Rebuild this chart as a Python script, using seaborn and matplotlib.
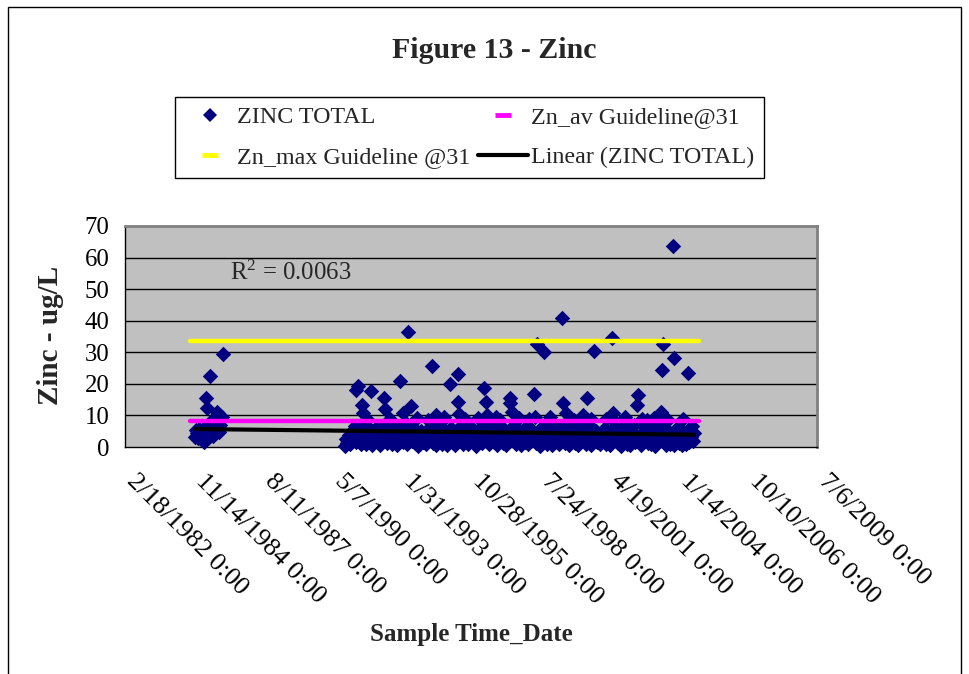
import numpy as np
import pandas as pd
import matplotlib
matplotlib.use("Agg")
import matplotlib.pyplot as plt
import matplotlib.transforms as mtransforms
from matplotlib.lines import Line2D
from matplotlib.patches import Rectangle
import seaborn as sns

# ---------------- data ----------------
title = "Figure 13 - Zinc"
x_label = "Sample Time_Date"
y_label = "Zinc - ug/L"
r2_value = "0.0063"

# early sampling period (decimal years, ug/L)
early_years = [1984.90, 1984.94, 1984.98, 1985.02, 1985.06, 1985.10, 1985.14, 1985.20,
               1985.26, 1985.30, 1985.34, 1985.37, 1985.40, 1985.45, 1985.50, 1985.55,
               1985.58, 1985.62, 1985.66, 1985.70, 1985.76, 1985.81, 1985.85, 1985.90,
               1985.95, 1985.99]
early_zinc = [3.3, 5.5, 4.5, 2.8, 5.8, 3.6, 2.5, 4.0,
              1.7, 6.2, 15.5, 12.2, 3.0, 5.2, 22.5, 4.1,
              8.5, 3.5, 6.5, 5.0, 11.2, 8.0, 4.8, 7.0,
              9.5, 29.4]

# later period - elevated results
high_years = [1991.28, 1991.36, 1991.50, 1991.56, 1991.86, 1992.39, 1992.42, 1993.03,
              1993.14, 1993.34, 1993.43, 1994.29, 1994.45, 1994.99, 1995.32, 1995.30,
              1995.36, 1996.35, 1996.42, 1996.44, 1996.81, 1997.36, 1997.38, 1997.44,
              1998.33, 1998.35, 1998.42, 1998.72, 1999.43, 1999.45, 1999.58, 2000.24,
              2000.40, 2000.70, 2001.41, 2001.45, 2002.37, 2002.44, 2002.77, 2003.32,
              2003.41, 2003.39, 2003.80, 2003.87, 2004.42]
high_zinc = [18.0, 19.2, 13.2, 10.7, 17.8, 15.6, 11.9, 21.0,
             10.7, 36.3, 13.1, 25.7, 10.1, 20.0, 23.1, 14.3,
             10.3, 18.6, 14.3, 10.1, 9.6, 15.6, 14.0, 11.0,
             16.7, 9.6, 32.6, 30.0, 40.8, 13.8, 10.7, 10.1,
             15.4, 30.5, 34.4, 10.8, 13.3, 16.4, 8.6, 11.2,
             32.6, 24.4, 63.7, 28.1, 23.5]

# later period - results just above the average guideline
mid_years = [1991.70, 1992.60, 1993.70, 1994.10, 1994.75, 1995.60, 1996.10, 1996.95,
             1997.70, 1998.10, 1998.95, 1999.90, 2000.55, 2001.15, 2001.90, 2002.60,
             2003.05, 2003.60, 2004.20]
mid_zinc = [9.0, 8.8, 9.2, 8.7, 9.4, 8.9, 9.1, 8.6,
            9.3, 8.8, 9.5, 8.7, 9.0, 8.9, 9.6, 8.8,
            9.2, 8.6, 9.0]

# later period - routine results
band_years = [1990.84, 1990.88, 1990.93, 1991.00, 1991.05, 1991.10, 1991.16, 1991.22, 1991.27, 1991.33,
              1991.40, 1991.45, 1991.53, 1991.60, 1991.66, 1991.72, 1991.78, 1991.83, 1991.90, 1991.96,
              1992.02, 1992.08, 1992.15, 1992.21, 1992.28, 1992.35, 1992.45, 1992.50, 1992.57, 1992.63,
              1992.70, 1992.76, 1992.82, 1992.88, 1992.95, 1993.00, 1993.07, 1993.12, 1993.19, 1993.25,
              1993.30, 1993.38, 1993.47, 1993.53, 1993.60, 1993.66, 1993.72, 1993.79, 1993.86, 1993.92,
              1993.98, 1994.04, 1994.10, 1994.17, 1994.23, 1994.30, 1994.36, 1994.42, 1994.50, 1994.56,
              1994.63, 1994.69, 1994.75, 1994.82, 1994.88, 1994.94, 1995.02, 1995.08, 1995.14, 1995.20,
              1995.26, 1995.40, 1995.46, 1995.52, 1995.58, 1995.65, 1995.71, 1995.77, 1995.84, 1995.90,
              1995.96, 1996.02, 1996.08, 1996.14, 1996.20, 1996.27, 1996.33, 1996.48, 1996.54, 1996.60,
              1996.66, 1996.72, 1996.78, 1996.86, 1996.92, 1996.98, 1997.04, 1997.10, 1997.16, 1997.22,
              1997.28, 1997.48, 1997.54, 1997.60, 1997.66, 1997.72, 1997.78, 1997.84, 1997.90, 1997.96,
              1998.02, 1998.08, 1998.14, 1998.20, 1998.26, 1998.38, 1998.48, 1998.54, 1998.60, 1998.66,
              1998.78, 1998.84, 1998.90, 1998.96, 1999.02, 1999.08, 1999.14, 1999.20, 1999.26, 1999.32,
              1999.38, 1999.50, 1999.55, 1999.64, 1999.70, 1999.76, 1999.82, 1999.88, 1999.94, 2000.00,
              2000.06, 2000.12, 2000.18, 2000.30, 2000.36, 2000.46, 2000.52, 2000.58, 2000.64, 2000.76,
              2000.82, 2000.88, 2000.94, 2001.00, 2001.06, 2001.12, 2001.18, 2001.24, 2001.30, 2001.36,
              2001.50, 2001.56, 2001.62, 2001.68, 2001.74, 2001.80, 2001.86, 2001.92, 2001.98, 2002.04,
              2002.10, 2002.16, 2002.22, 2002.28, 2002.32, 2002.50, 2002.56, 2002.62, 2002.68, 2002.72,
              2002.82, 2002.88, 2002.94, 2003.00, 2003.06, 2003.12, 2003.18, 2003.24, 2003.28, 2003.46,
              2003.52, 2003.58, 2003.64, 2003.70, 2003.76, 2003.84, 2003.92, 2003.98, 2004.04, 2004.10,
              2004.16, 2004.22, 2004.28, 2004.34, 2004.40, 2004.46, 2004.52, 2004.58, 2004.62, 2004.65]
band_zinc = [0.3, 2.5, 1.2, 3.8, 0.8, 5.2, 2.1, 6.5, 1.5, 3.2,
             4.6, 0.9, 7.2, 2.8, 1.1, 4.2, 2.4, 5.8, 0.6, 3.5,
             1.9, 6.1, 2.7, 0.7, 4.4, 2.2, 7.5, 1.4, 3.1, 5.0,
             1.0, 2.6, 6.8, 0.5, 3.9, 2.3, 5.5, 1.6, 8.0, 3.0,
             0.9, 4.8, 2.0, 6.3, 1.2, 3.6, 0.4, 2.9, 5.1, 1.7,
             3.3, 0.8, 4.1, 2.5, 6.6, 1.3, 3.7, 0.6, 5.4, 2.1,
             7.8, 1.0, 3.4, 4.9, 0.7, 2.8, 6.0, 1.5, 3.9, 0.5,
             5.3, 2.4, 7.0, 1.1, 3.2, 4.5, 0.9, 2.6, 6.4, 1.8,
             3.6, 0.4, 4.7, 2.2, 5.9, 1.4, 3.0, 7.4, 0.8, 2.7,
             4.3, 1.6, 5.6, 0.6, 3.1, 2.0, 6.2, 1.2, 3.8, 0.5,
             4.6, 2.3, 7.1, 1.0, 3.5, 5.2, 0.7, 2.9, 4.0, 1.5,
             6.7, 0.9, 3.3, 2.1, 5.0, 1.3, 3.7, 0.4, 6.1, 2.5,
             4.4, 1.1, 7.6, 2.8, 0.6, 4.9, 1.7, 3.4, 5.8, 0.8,
             2.6, 6.9, 1.2, 3.9, 0.5, 4.7, 2.2, 5.5, 1.4, 3.1,
             0.7, 6.3, 2.0, 4.2, 1.0, 7.3, 2.7, 0.5, 3.6, 5.1,
             1.6, 3.0, 0.9, 4.8, 2.3, 6.0, 1.1, 3.5, 0.6, 5.4,
             2.5, 7.7, 1.3, 3.8, 0.4, 4.5, 2.0, 6.5, 1.0, 3.2,
             0.7, 5.0, 2.4, 7.0, 1.5, 3.7, 0.5, 4.9, 2.1, 6.2,
             1.2, 3.4, 0.8, 5.6, 2.6, 0.4, 4.1, 1.8, 7.2, 3.0,
             0.6, 5.3, 2.2, 1.0, 4.4, 0.5, 2.9, 6.0, 1.3, 3.6,
             0.7, 5.1, 2.4, 0.9, 4.0, 1.7, 3.2, 6.6, 2.0, 4.5]

# guideline / trend series
guide_years = [1984.70, 2004.84]
zn_av_level = [8.1, 8.1]
zn_max_level = [33.6, 33.6]
trend_years = [1984.90, 2004.65]
trend_zinc = [5.7, 3.9]

tick_dates = ["1982-02-18", "1984-11-14", "1987-08-11", "1990-05-07", "1993-01-31",
              "1995-10-28", "1998-07-24", "2001-04-19", "2004-01-14", "2006-10-10",
              "2009-07-06"]
tick_labels = ["2/18/1982 0:00", "11/14/1984 0:00", "8/11/1987 0:00", "5/7/1990 0:00",
               "1/31/1993 0:00", "10/28/1995 0:00", "7/24/1998 0:00", "4/19/2001 0:00",
               "1/14/2004 0:00", "10/10/2006 0:00", "7/6/2009 0:00"]
y_ticks = [0, 10, 20, 30, 40, 50, 60, 70]

legend_labels = ["ZINC TOTAL", "Zn_max Guideline @31", "Zn_av Guideline@31",
                 "Linear (ZINC TOTAL)"]


def dec_to_dt(values):
    out = []
    for v in values:
        yr = int(np.floor(v))
        start = pd.Timestamp(yr, 1, 1)
        end = pd.Timestamp(yr + 1, 1, 1)
        out.append(start + (end - start) * (v - yr))
    return pd.to_datetime(out)


# ---------------- style ----------------
sns.set_style("white")
plt.rcParams["font.family"] = ["Liberation Serif", "DejaVu Serif"]
plt.rcParams["mathtext.fontset"] = "custom"
plt.rcParams["mathtext.rm"] = "Liberation Serif"
plt.rcParams["mathtext.it"] = "Liberation Serif"

NAVY = "#000080"
FS = 17.8

fig = plt.figure(figsize=(9.69, 6.74), dpi=100)
fig.patch.set_facecolor("white")
# outer chart border
fig.patches.append(Rectangle((8 / 969, -0.05), (961 - 8) / 969, 1 - 7 / 674 + 0.05,
                             transform=fig.transFigure, fill=False,
                             edgecolor="black", linewidth=1.0))

ax = fig.add_axes([125 / 969, 1 - 447 / 674, (817 - 125) / 969, 221 / 674])
ax.set_facecolor("#C0C0C0")

df = pd.DataFrame({
    "date": dec_to_dt(early_years + high_years + mid_years + band_years),
    "zinc": early_zinc + high_zinc + mid_zinc + band_zinc,
})

sns.scatterplot(data=df, x="date", y="zinc", marker="D", color=NAVY, s=62,
                linewidth=0, ax=ax, legend=False, zorder=3, clip_on=False)

gdates = dec_to_dt(guide_years)
sns.lineplot(x=gdates, y=zn_av_level, color="#FF00FF", linewidth=3.2, ax=ax, zorder=4)
sns.lineplot(x=gdates, y=zn_max_level, color="#FFFF00", linewidth=3.2, ax=ax, zorder=4)
sns.lineplot(x=dec_to_dt(trend_years), y=trend_zinc, color="black", linewidth=3.0,
             ax=ax, zorder=5)

ticks = pd.to_datetime(tick_dates)
ax.set_xlim(ticks[0], ticks[-1])
ax.set_ylim(y_ticks[0], y_ticks[-1])
ax.set_xticks(ticks)
ax.set_xticklabels(tick_labels, rotation=-45, ha="left", va="top",
                   rotation_mode="anchor", fontsize=19)
ax.set_yticks(y_ticks)
ax.set_yticklabels([str(v) for v in y_ticks], fontsize=FS)
ax.tick_params(axis="both", direction="out", length=6, width=1, color="black",
               pad=5, labelcolor="black")
ax.set_xlabel("")
ax.set_ylabel("")

ax.grid(False)
for v in y_ticks[1:-1]:
    ax.axhline(v, color="black", linewidth=1.0, zorder=1)

for side in ["left", "bottom"]:
    ax.spines[side].set_color("black")
    ax.spines[side].set_linewidth(1.0)
for side in ["top", "right"]:
    ax.spines[side].set_color("#808080")
    ax.spines[side].set_linewidth(2.0)

ax.text(0.24, 0.79, r"R$^{2}$ = " + r2_value, transform=ax.transAxes,
        ha="center", va="center", fontsize=FS, zorder=6)

fig.text(494 / 969, 1 - 50 / 674, title, ha="center", va="center",
         fontsize=21.5, fontweight="bold")
fig.text(471 / 969, 1 - 635 / 674, x_label, ha="center", va="center",
         fontsize=18, fontweight="bold")
fig.text(51 / 969, 1 - 335 / 674, y_label, ha="center", va="center",
         fontsize=21, fontweight="bold", rotation=90)

handles = [
    Line2D([], [], marker="D", color=NAVY, linestyle="none", markersize=7,
           markeredgewidth=0),
    Line2D([], [], marker="_", color="#FFFF00", linestyle="none", markersize=11,
           markeredgewidth=3.5),
    Line2D([], [], marker="_", color="#FF00FF", linestyle="none", markersize=11,
           markeredgewidth=3.5),
    Line2D([], [], color="black", linewidth=3),
]
leg = fig.legend(handles, legend_labels, ncol=2, loc="upper left",
                 bbox_to_anchor=(175 / 969, 1 - 97 / 674), borderaxespad=0,
                 fontsize=17.3, frameon=True, fancybox=False, shadow=False,
                 handlelength=2.1, handletextpad=0.1, columnspacing=0.3,
                 labelspacing=0.75, borderpad=0.4)
leg.get_frame().set_edgecolor("black")
leg.get_frame().set_linewidth(1.0)
leg.get_frame().set_alpha(1)

# shift the rotated date labels so they start just right of their ticks
shift = mtransforms.ScaledTranslation(0.13, -0.08, fig.dpi_scale_trans)
for lab in ax.xaxis.get_majorticklabels():
    lab.set_transform(lab.get_transform() + shift)

fig.savefig("out.png", dpi=100)
